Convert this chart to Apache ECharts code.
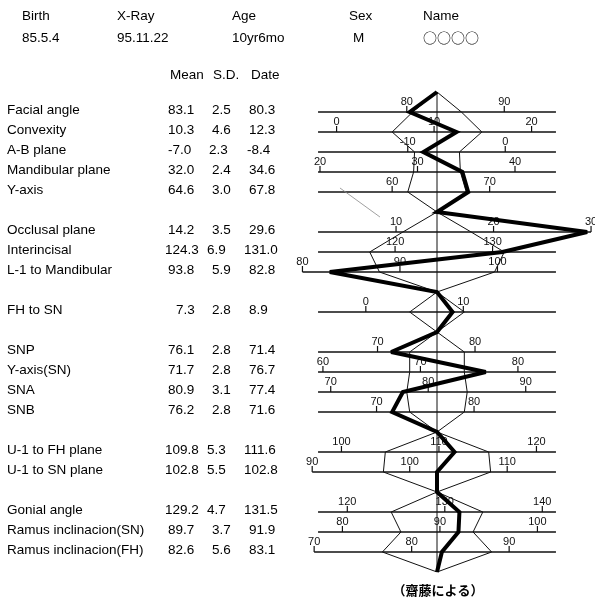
<!DOCTYPE html>
<html>
<head>
<meta charset="utf-8">
<script src="https://cdn.jsdelivr.net/npm/echarts@6/dist/echarts.min.js"></script>
<style>
  html, body { margin: 0; padding: 0; background: #fff; }
  #main { width: 595px; height: 602px; }
</style>
</head>
<body>
<div id="main"></div>
<script>
// one entry per measurement row
const labels = ['Facial angle', 'Convexity', 'A-B plane', 'Mandibular plane', 'Y-axis',
  'Occlusal plane', 'Interincisal', 'L-1 to Mandibular', 'FH to SN',
  'SNP', 'Y-axis(SN)', 'SNA', 'SNB', 'U-1 to FH plane', 'U-1 to SN plane',
  'Gonial angle', 'Ramus inclinacion(SN)', 'Ramus inclinacion(FH)']
const means = [83.1, 10.3, -7.0, 32.0, 64.6, 14.2, 124.3, 93.8, 7.3,
  76.1, 71.7, 80.9, 76.2, 109.8, 102.8, 129.2, 89.7, 82.6]
const sds = [2.5, 4.6, 2.3, 2.4, 3.0, 3.5, 6.9, 5.9, 2.8,
  2.8, 2.8, 3.1, 2.8, 5.3, 5.5, 4.7, 3.7, 5.6]
const dates = [80.3, 12.3, -8.4, 34.6, 67.8, 29.6, 131.0, 82.8, 8.9,
  71.4, 76.7, 77.4, 71.6, 111.6, 102.8, 131.5, 91.9, 83.1]
// scale ticks printed on each row
const ticks = [[80, 90], [0, 10, 20], [-10, 0], [20, 30, 40], [60, 70],
  [10, 20, 30], [120, 130], [80, 90, 100], [0, 10],
  [70, 80], [60, 70, 80], [70, 80, 90], [70, 80],
  [100, 110, 120], [90, 100, 110],
  [120, 130, 140], [80, 90, 100], [70, 80, 90]]
// rows per block; the polygon closes onto the centre line between blocks
const groups = [5, 3, 1, 4, 2, 3]

const infoHeads = ['Birth', 'X-Ray', 'Age', 'Sex', 'Name']
const infoVals = ['85.5.4', '95.11.22', '10yr6mo', 'M', '○○○○']
const colHeads = ['Mean', 'S.D.', 'Date']
const leader = [[-9.95, 4.8], [-5.85, 6.25]]

// row index of every measurement, plus the closing points
const rowOf = []
const joins = []
let r = 0
groups.forEach(n => {
  for (let k = 0; k < n; k++) { r++; rowOf.push(r) }
  r++
  joins.push(r)
})
const lastRow = r

function outline(fn) {
  const pts = [[0, 0]]
  let i = 0
  groups.forEach((n, g) => {
    for (let k = 0; k < n; k++, i++) pts.push([fn(i), rowOf[i]])
    pts.push([0, joins[g]])
  })
  return pts
}
const leftSD = outline(i => -sds[i])
const rightSD = outline(i => sds[i])
const patient = outline(i => dates[i] - means[i])

const FONT = '"Liberation Sans", Arial, sans-serif'
const chart = echarts.init(document.getElementById('main'))

const thin = { color: '#111', width: 1 }
chart.setOption({
  animation: false,
  grid: { left: 281, top: 92, width: 312, height: 480 },
  xAxis: { type: 'value', min: -16, max: 16, show: false },
  yAxis: { type: 'value', min: 0, max: lastRow, inverse: true, show: false },
  series: [
    {
      type: 'custom',
      clip: false,
      silent: true,
      data: labels.map((_, i) => [0, rowOf[i]]),
      renderItem: (params, api) => {
        const i = params.dataIndex
        const offs = ticks[i].map(t => t - means[i])
        const lo = Math.min(-12.2, ...offs)
        const hi = Math.max(12.2, ...offs)
        const a = api.coord([lo, rowOf[i]])
        const b = api.coord([hi, rowOf[i]])
        const kids = [{
          type: 'line',
          shape: { x1: a[0], y1: a[1], x2: b[0], y2: b[1] },
          style: { stroke: '#111', lineWidth: 1.3 }
        }]
        offs.forEach((o, k) => {
          const p = api.coord([o, rowOf[i]])
          kids.push({
            type: 'line',
            shape: { x1: p[0], y1: p[1], x2: p[0], y2: p[1] - 6 },
            style: { stroke: '#111', lineWidth: 1.2 }
          })
          kids.push({
            type: 'text',
            x: p[0], y: p[1] - 5,
            style: {
              text: String(ticks[i][k]), font: '11px ' + FONT, fill: '#111',
              align: 'center', verticalAlign: 'bottom'
            }
          })
        })
        return { type: 'group', children: kids }
      }
    },
    { type: 'line', data: [[0, 0], [0, lastRow]], symbol: 'none', lineStyle: thin, silent: true },
    { type: 'line', data: leader, symbol: 'none', lineStyle: { color: '#888', width: 0.8 }, silent: true },
    { type: 'line', data: leftSD, symbol: 'none', lineStyle: thin, silent: true },
    { type: 'line', data: rightSD, symbol: 'none', lineStyle: thin, silent: true },
    {
      type: 'line', data: patient, symbol: 'none', silent: true,
      lineStyle: { color: '#000', width: 4, join: 'miter', miterLimit: 3 }
    }
  ]
})

// table and header text, placed on the row positions of the chart
const rowY = row => chart.convertToPixel({ yAxisIndex: 0 }, row)
const txt = (t, x, y, extra) => ({
  type: 'text', x: x, y: y, silent: true,
  style: Object.assign({
    text: t, font: '13.5px ' + FONT, fill: '#000',
    align: 'left', verticalAlign: 'middle'
  }, extra || {})
})
const g = []
const infoX = [22, 117, 232, 349, 423]
infoHeads.forEach((h, i) => {
  g.push(txt(h, infoX[i], 16))
  const v = infoVals[i]
  g.push(v === '○○○○'
    ? txt(v, infoX[i], 38, { font: '14px "Noto Sans CJK JP", sans-serif' })
    : txt(v, infoX[i] + (v === 'M' ? 4 : 0), 38))
})
const colX = [170, 213, 251]
colHeads.forEach((h, i) => g.push(txt(h, colX[i], 75)))

labels.forEach((lab, i) => {
  const y = rowY(rowOf[i]) - 2
  const m = means[i]
  const big = m >= 100
  g.push(txt(lab, 7, y))
  g.push(txt(m.toFixed(1), big ? 165 : (m >= 0 && m < 10 ? 176 : 168), y))
  g.push(txt(sds[i].toFixed(1), big ? 207 : (m < 0 ? 209 : 212), y))
  const d = dates[i]
  g.push(txt(d.toFixed(1), d >= 100 ? 244 : (d < 0 ? 247 : 249), y))
})

const cx = chart.convertToPixel({ xAxisIndex: 0 }, 0)
g.push(txt('（齋藤による）', cx + 1, 590, {
  font: 'bold 13px "Noto Sans CJK JP", sans-serif', align: 'center'
}))

chart.setOption({ graphic: g })
</script>
</body>
</html>
